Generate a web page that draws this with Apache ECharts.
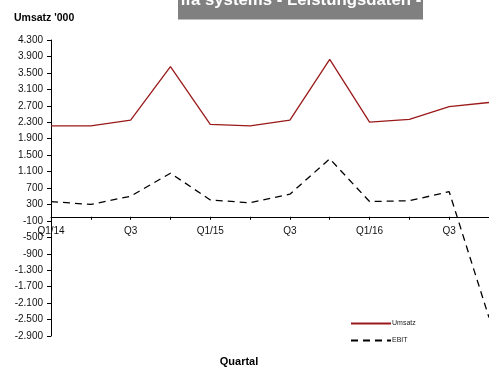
<!DOCTYPE html>
<html><head><meta charset="utf-8">
<script src="https://cdn.jsdelivr.net/npm/echarts@6/dist/echarts.min.js"></script>
<style>html,body{margin:0;padding:0;background:#fff}#c{width:489px;height:367px}</style>
</head><body><div id="c"></div>
<script>
const categories = ['Q1/14','Q2','Q3','Q4','Q1/15','Q2','Q3','Q4','Q1/16','Q2','Q3','Q4'];
const umsatz = [2210, 2210, 2350, 3650, 2250, 2210, 2350, 3830, 2300, 2370, 2680, 2780];
const ebit = [370, 300, 500, 1060, 410, 340, 550, 1410, 370, 390, 610, -2450];
const yMin = -2900, yMax = 4300, yStep = 400;
const titleText = 'ifa systems - Leistungsdaten -';
const yTitle = "Umsatz '000";
const xTitle = 'Quartal';

function fmt(v){
  const s = Math.abs(v).toString().replace(/\B(?=(\d{3})+(?!\d))/g,'.');
  return (v<0?'-':'') + s;
}
const font = 'Liberation Sans';
const chart = echarts.init(document.getElementById('c'), null, {renderer:'canvas'});
chart.setOption({
  animation:false,
  backgroundColor:'#fff',
  textStyle:{fontFamily:font},
  grid:{left:51, right:-2, top:40, bottom:31, containLabel:false},
  xAxis:[
    {type:'category', data:categories, boundaryGap:false,
      axisLine:{onZero:true, onZeroAxisIndex:0, lineStyle:{color:'#000', width:1}},
      axisTick:{show:true, inside:false, length:3, interval:0, lineStyle:{color:'#000'}},
      axisLabel:{show:false},
      splitLine:{show:false}},
    {type:'category', data:categories, boundaryGap:false, position:'bottom', offset:-114,
      axisLine:{show:false, onZero:false}, axisTick:{show:false},
      axisLabel:{interval:1, color:'#111', fontSize:10, fontFamily:font, margin:4},
      splitLine:{show:false}}
  ],
  yAxis:{type:'value', min:yMin, max:yMax, interval:yStep,
    axisLine:{show:true, lineStyle:{color:'#000', width:1}},
    axisTick:{show:true, length:4, lineStyle:{color:'#000'}},
    axisLabel:{color:'#111', fontSize:10, fontFamily:font, margin:8, formatter:fmt},
    splitLine:{show:false}},
  legend:{orient:'vertical', left:350, top:320, itemWidth:40, itemHeight:8, itemGap:10,
    padding:0, itemStyle:{opacity:0}, textStyle:{fontSize:7, color:'#222', fontFamily:font, padding:[0,0,0,-4]},
    data:['Umsatz','EBIT']},
  series:[
    {name:'Umsatz', type:'line', data:umsatz, symbol:'none', lineStyle:{color:'#9a1a1a', width:1.3}, itemStyle:{color:'#9a1a1a'}},
    {name:'EBIT', type:'line', data:ebit, symbol:'none', lineStyle:{color:'#000', width:1.3, type:[7,5]}, itemStyle:{color:'#000'}}
  ],
  graphic:[
    {type:'rect', shape:{x:178, y:0, width:245, height:19.5}, style:{fill:'#808080'}},
    {type:'text', x:301, y:9, style:{text:titleText, fill:'#fff', font:'bold 16.8px '+font, align:'center', verticalAlign:'bottom'}},
    {type:'text', x:14, y:18, style:{text:yTitle, fill:'#000', font:'bold 10.5px '+font, align:'left', verticalAlign:'middle'}},
    {type:'text', x:239, y:361.5, style:{text:xTitle, fill:'#000', font:'bold 11px '+font, align:'center', verticalAlign:'middle'}}
  ]
});
</script></body></html>
